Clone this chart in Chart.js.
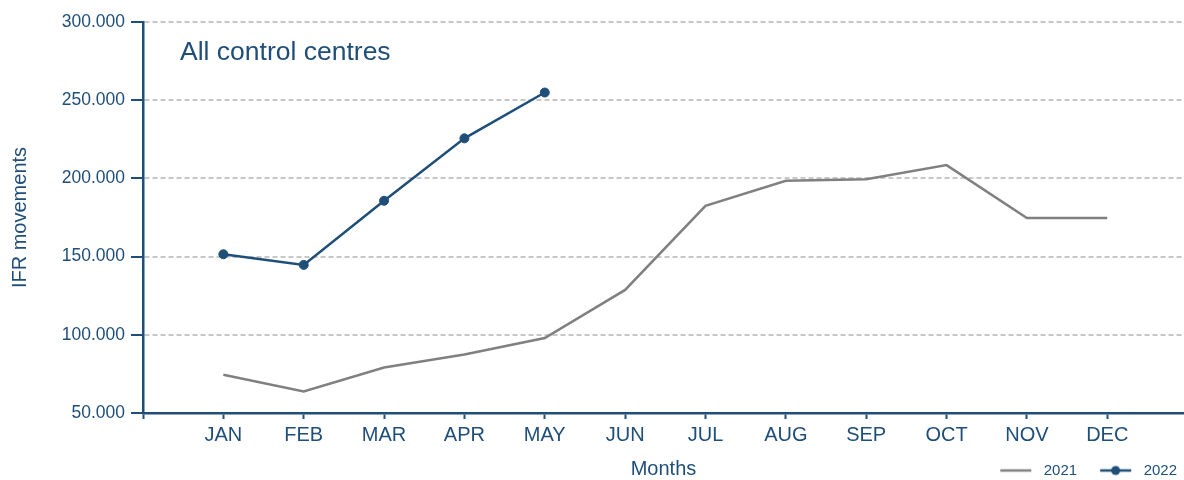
<!DOCTYPE html>
<html>
<head>
<meta charset="utf-8">
<script src="https://cdn.jsdelivr.net/npm/chart.js@4"></script>
<style>
  html, body { margin: 0; padding: 0; background: #ffffff; }
  #wrap { width: 1184px; height: 480px; }
</style>
</head>
<body>
<div id="wrap"><canvas id="c" width="1184" height="480"></canvas></div>
<script>
// ---- data ----
const chartTitle = 'All control centres';
const months = ['JAN', 'FEB', 'MAR', 'APR', 'MAY', 'JUN', 'JUL', 'AUG', 'SEP', 'OCT', 'NOV', 'DEC'];
const seriesNames = ['2021', '2022'];
const values2021 = [74400, 63800, 79100, 87400, 97900, 128700, 182500, 198500, 199400, 208500, 174700, 174700];
const values2022 = [151500, 144700, 185700, 225600, 254900];
const yMin = 50000;
const yMax = 300000;
const yStep = 50000;
const xTitle = 'Months';
const yTitle = 'IFR movements';

// ---- styling ----
const NAVY = '#1f4e79';
const GREY = '#808080';
const GRID = '#c8c8c8';
const FONT = "'Liberation Sans', Arial, Helvetica, sans-serif";

// month index positions: JAN = 1 ... DEC = 12, axis starts at 0 and runs a little past DEC
const toPoints = (arr) => arr.map((v, i) => ({ x: i + 1, y: v }));
const xAxisMax = 12.955;

function legendImage(color, withDot) {
  const c = document.createElement('canvas');
  c.width = 48; c.height = 12;
  const g = c.getContext('2d');
  g.strokeStyle = color;
  g.lineWidth = 2.5;
  g.beginPath();
  g.moveTo(12, 6); g.lineTo(43, 6);
  g.stroke();
  if (withDot) {
    g.fillStyle = color;
    g.beginPath();
    g.arc(27.5, 6, 4.5, 0, Math.PI * 2);
    g.fill();
  }
  return c;
}
const legendImgs = [legendImage(GREY, false), legendImage(NAVY, true)];

const fmt = (v) => String(v).replace(/\B(?=(\d{3})+(?!\d))/g, '.');

const titlePlugin = {
  id: 'innerTitle',
  afterDraw(chart) {
    const ctx = chart.ctx;
    ctx.save();
    ctx.font = '26.5px ' + FONT;
    ctx.fillStyle = NAVY;
    ctx.textAlign = 'left';
    ctx.textBaseline = 'alphabetic';
    ctx.fillText(chartTitle, 180, 59.5);
    ctx.restore();
  }
};

new Chart(document.getElementById('c'), {
  type: 'line',
  data: {
    datasets: [
      {
        label: seriesNames[0],
        data: toPoints(values2021),
        borderColor: GREY,
        backgroundColor: GREY,
        borderWidth: 2.5,
        pointRadius: 0,
        tension: 0
      },
      {
        label: seriesNames[1],
        data: toPoints(values2022),
        borderColor: NAVY,
        backgroundColor: NAVY,
        borderWidth: 2.5,
        pointRadius: 4.5,
        pointBorderWidth: 1,
        pointBackgroundColor: NAVY,
        pointBorderColor: NAVY,
        tension: 0
      }
    ]
  },
  options: {
    responsive: false,
    devicePixelRatio: 1,
    animation: false,
    layout: { autoPadding: false, padding: { top: 22, left: 0, right: -4, bottom: -8 } },
    plugins: {
      title: { display: false },
      tooltip: { enabled: false },
      legend: {
        display: true,
        position: 'bottom',
        align: 'end',
        labels: {
          usePointStyle: true,
          pointStyleWidth: 48,
          padding: 11,
          color: NAVY,
          font: { family: FONT, size: 15 },
          generateLabels(chart) {
            const items = Chart.defaults.plugins.legend.labels.generateLabels(chart);
            items.forEach((it, i) => { it.pointStyle = legendImgs[i]; it.fontColor = NAVY; });
            return items;
          }
        }
      }
    },
    scales: {
      x: {
        type: 'linear',
        min: 0,
        max: xAxisMax,
        afterFit(scale) { scale.height = 39; scale.paddingRight = 0; scale.paddingLeft = 0; },
        grid: {
          display: true,
          drawOnChartArea: false,
          drawTicks: true,
          tickLength: 6,
          tickWidth: 2,
          tickColor: NAVY,
          color: NAVY
        },
        border: { display: true, color: NAVY, width: 2.5 },
        ticks: {
          stepSize: 1,
          includeBounds: false,
          color: NAVY,
          padding: 4,
          maxRotation: 0,
          autoSkip: false,
          font: { family: FONT, size: 20 },
          callback: (v) => (Number.isInteger(v) && v >= 1 && v <= months.length) ? months[v - 1] : ''
        },
        title: {
          display: true,
          text: xTitle,
          color: NAVY,
          font: { family: FONT, size: 20 },
          padding: { top: 6, bottom: -29 }
        }
      },
      y: {
        min: yMin,
        max: yMax,
        afterFit(scale) { scale.width = 143; },
        ticks: {
          stepSize: yStep,
          color: NAVY,
          padding: 6,
          font: { family: FONT, size: 17.5 },
          callback: (v) => fmt(v)
        },
        grid: {
          display: true,
          drawOnChartArea: true,
          drawTicks: true,
          tickLength: 12,
          tickWidth: 2,
          tickColor: NAVY,
          lineWidth: 2,
          color: (ctx) => (ctx.tick && ctx.tick.value === yMin) ? 'rgba(0,0,0,0)' : GRID
        },
        border: { display: true, color: NAVY, width: 2.5, dash: [5, 3] },
        title: {
          display: true,
          text: yTitle,
          color: NAVY,
          font: { family: FONT, size: 20 },
          padding: { top: 8, bottom: 0 }
        }
      }
    }
  },
  plugins: [titlePlugin]
});
</script>
</body>
</html>
